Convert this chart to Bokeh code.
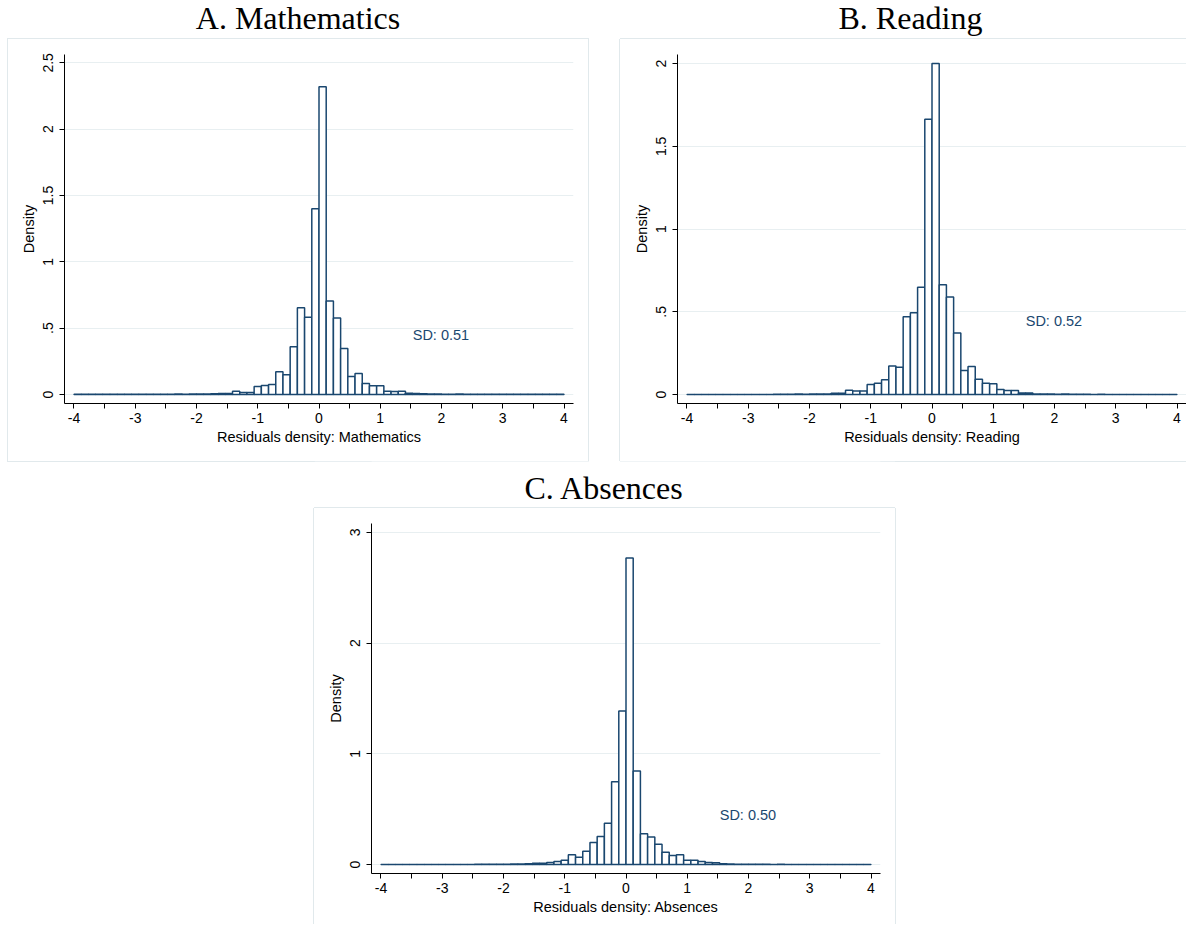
from bokeh.plotting import figure
from bokeh.models import Range1d, FixedTicker, Spacer
from bokeh.layouts import row, column
from bokeh.core.properties import value
from bokeh.embed import file_html
from bokeh.resources import INLINE

# histogram bins: 68 bins of equal width covering -4 .. 4
bin_start = -4.0
bin_width = 8 / 68
n_bins = 68

# densities, one value per bin from left (-4) to right (4)
dens_math = [
    0.001, 0.001, 0.001, 0.001, 0.001, 0.001, 0.001, 0.001, 0.001, 0.001, 0.001,
    0.002, 0.002, 0.002, 0.004, 0.002, 0.003, 0.003, 0.004,
    0.005, 0.007, 0.008, 0.025, 0.015, 0.015, 0.061, 0.068, 0.076, 0.172,
    0.149, 0.359, 0.654, 0.583, 1.400,
    2.320, 0.705, 0.576, 0.346, 0.136, 0.159, 0.083, 0.066, 0.066, 0.025,
    0.023, 0.025, 0.010, 0.008, 0.006, 0.004, 0.003,
    0.002, 0.002, 0.003, 0.002, 0.002, 0.001, 0.002, 0.001, 0.001, 0.001,
    0.001, 0.001, 0.001, 0.001, 0.001, 0.001, 0.001,
]
dens_read = [
    0.001, 0.001, 0.001, 0.001, 0.001, 0.001, 0.001, 0.001, 0.001, 0.001, 0.001,
    0.001, 0.002, 0.002, 0.002, 0.003, 0.002, 0.003, 0.003,
    0.004, 0.008, 0.008, 0.026, 0.022, 0.022, 0.061, 0.069, 0.089, 0.173,
    0.165, 0.470, 0.494, 0.648, 1.664,
    2.000, 0.663, 0.589, 0.372, 0.146, 0.169, 0.093, 0.069, 0.065, 0.030,
    0.024, 0.024, 0.010, 0.010, 0.004, 0.004, 0.003,
    0.002, 0.003, 0.002, 0.002, 0.002, 0.001, 0.002, 0.001, 0.001, 0.001,
    0.001, 0.001, 0.001, 0.001, 0.001, 0.001, 0.001,
]
dens_abs = [
    0.001, 0.001, 0.001, 0.001, 0.001, 0.001, 0.001, 0.001, 0.001, 0.001, 0.001,
    0.001, 0.001, 0.002, 0.002, 0.002, 0.003, 0.003, 0.004,
    0.004, 0.006, 0.012, 0.012, 0.018, 0.027, 0.039, 0.088, 0.066, 0.121,
    0.200, 0.254, 0.372, 0.749, 1.388,
    2.770, 0.846, 0.278, 0.248, 0.184, 0.112, 0.082, 0.088, 0.039, 0.039,
    0.027, 0.018, 0.015, 0.008, 0.005, 0.003, 0.002,
    0.002, 0.002, 0.002, 0.001, 0.002, 0.001, 0.001, 0.001, 0.001, 0.001,
    0.001, 0.001, 0.001, 0.001, 0.001, 0.001, 0.001,
]

xticks = [-4, -3, -2, -1, 0, 1, 2, 3, 4]
xtick_labels = ["-4", "-3", "-2", "-1", "0", "1", "2", "3", "4"]
xminor = [-3.5, -2.5, -1.5, -0.5, 0.5, 1.5, 2.5, 3.5]

yticks_math = [0, 0.5, 1, 1.5, 2, 2.5]
ylabels_math = ["0", ".5", "1", "1.5", "2", "2.5"]
yticks_read = [0, 0.5, 1, 1.5, 2]
ylabels_read = ["0", ".5", "1", "1.5", "2"]
yticks_abs = [0, 1, 2, 3]
ylabels_abs = ["0", "1", "2", "3"]

sd_texts = ["SD: 0.51", "SD: 0.52", "SD: 0.50"]
sd_x = 1.53
sd_y = 0.445

NAVY = "#1a476f"
GRID = "#e8eff1"
FRAME = "#e1e9ec"
SANS = "Liberation Sans"
SERIF = "Liberation Serif"


def title_fig(text, width, height, bl, br, cx, mid_from_top):
    # the column lines this frame up with the panel below, so the x range
    # is given in the figure's own pixels between those borders
    t = figure(width=width, height=height, x_range=Range1d(bl, width - br),
               y_range=Range1d(0, height), toolbar_location=None, title=None,
               output_backend="svg", x_axis_location=None, y_axis_location=None,
               min_border=0)
    t.grid.visible = False
    t.outline_line_color = None
    t.text(x=[cx], y=[height - mid_from_top], text=[text], text_font=value(SERIF),
           text_font_size="32px", text_color="black", text_align="center",
           text_baseline="middle")
    return t


def hist_fig(dens, yticks, ylabels, yrange, xlabel, sd_text, width, height,
             bl, br, bb, shadow):
    left = [bin_start + i * bin_width for i in range(n_bins)]
    right = [bin_start + (i + 1) * bin_width for i in range(n_bins)]
    p = figure(width=width, height=height, x_range=Range1d(-4.155, 4.155),
               y_range=Range1d(*yrange), toolbar_location=None, title=None,
               output_backend="svg", min_border_left=bl, min_border_right=br,
               min_border_top=15, min_border_bottom=bb)
    p.outline_line_color = None
    p.styles = {"box-shadow": shadow}

    p.quad(left=left, right=right, bottom=0, top=dens, fill_color="white",
           line_color=NAVY, line_width=1.5)

    p.text(x=[sd_x], y=[sd_y], text=[sd_text], text_font=value(SANS),
           text_font_size="14.5px", text_color=NAVY, text_align="left",
           text_baseline="middle")

    p.xgrid.visible = False
    p.ygrid.ticker = FixedTicker(ticks=yticks)
    p.ygrid.grid_line_color = GRID
    p.ygrid.grid_line_width = 1

    p.xaxis.ticker = FixedTicker(ticks=xticks, minor_ticks=xminor)
    p.xaxis.major_label_overrides = dict(zip(xticks, xtick_labels))
    p.yaxis.ticker = FixedTicker(ticks=yticks, minor_ticks=[])
    p.yaxis.major_label_overrides = dict(zip(yticks, ylabels))
    p.yaxis.major_label_orientation = "vertical"

    p.xaxis.axis_label = xlabel
    p.yaxis.axis_label = "Density"
    for ax in (p.xaxis, p.yaxis):
        ax.axis_line_color = "black"
        ax.major_tick_line_color = "black"
        ax.minor_tick_line_color = "black"
        ax.major_tick_in = 0
        ax.major_tick_out = 5
        ax.minor_tick_in = 0
        ax.minor_tick_out = 5
        ax.major_label_text_font = SANS
        ax.major_label_text_font_size = "14px"
        ax.major_label_text_color = "black"
        ax.axis_label_text_font = SANS
        ax.axis_label_text_font_size = "14.5px"
        ax.axis_label_text_font_style = "normal"
        ax.axis_label_text_color = "black"
    p.xaxis.major_label_standoff = 4
    p.xaxis.axis_label_standoff = 3
    p.yaxis.major_label_standoff = 6
    p.yaxis.axis_label_standoff = 4
    return p


ring = f"0 0 0 1px {FRAME}"
no_right = f"-1px 0 0 0 {FRAME}, 0 -1px 0 0 {FRAME}, 0 1px 0 0 {FRAME}"
no_bottom = f"-1px 0 0 0 {FRAME}, 0 -1px 0 0 {FRAME}, 1px 0 0 0 {FRAME}"

pa = hist_fig(dens_math, yticks_math, ylabels_math, (-0.068, 2.563),
              "Residuals density: Mathematics", sd_texts[0], 580, 422, 56, 15, 58, ring)
pb = hist_fig(dens_read, yticks_read, ylabels_read, (-0.054, 2.055),
              "Residuals density: Reading", sd_texts[1], 566, 422, 57, 0, 58, no_right)
pc = hist_fig(dens_abs, yticks_abs, ylabels_abs, (-0.081, 3.081),
              "Residuals density: Absences", sd_texts[2], 581, 416, 57, 15, 51, no_bottom)

ta = title_fig("A. Mathematics", 580, 39, 56, 15, 289.5, 17.2)
tb = title_fig("B. Reading", 566, 39, 57, 0, 290, 17.2)
tc = title_fig("C. Absences", 581, 47, 57, 15, 290, 26.3)

layout = row(
    Spacer(width=8),
    column(
        row(column(ta, pa), Spacer(width=32), column(tb, pb)),
        row(Spacer(width=306), column(tc, pc)),
    ),
)

open("out.html", "w").write(file_html(layout, INLINE))
